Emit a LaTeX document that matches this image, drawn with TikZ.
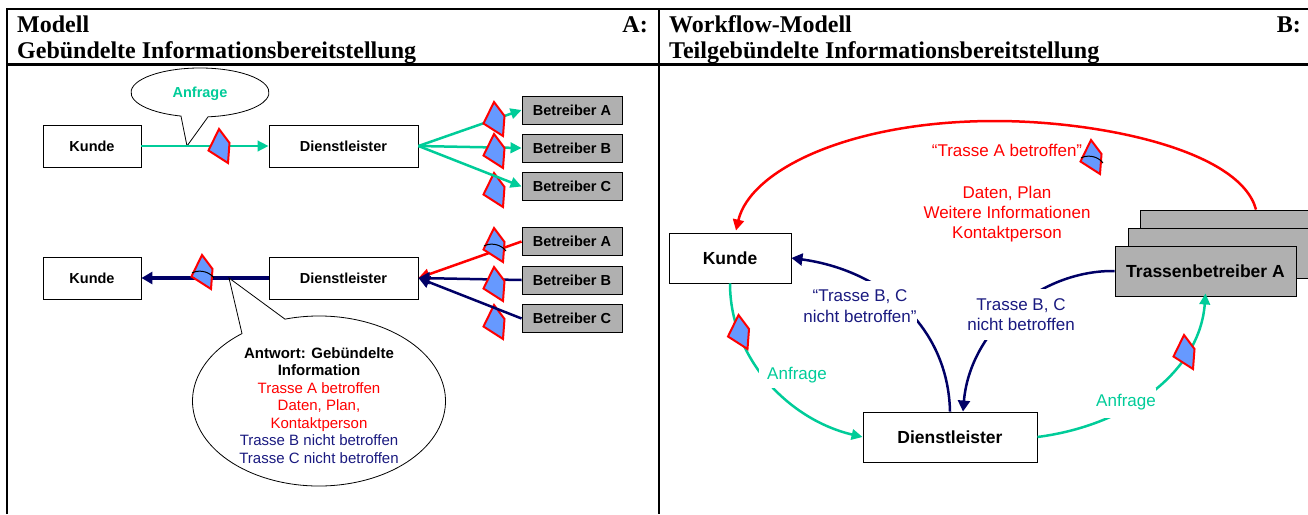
\documentclass[tikz,border=0pt]{standalone}
\usepackage{fontspec}
\setmainfont{Liberation Sans}
\newfontfamily\titlefont{Liberation Serif}
\usepackage{xcolor}
\usepackage{tikz}
\usetikzlibrary{arrows.meta}
\definecolor{anfragegreen}{HTML}{00CC99}
\definecolor{antwortnavy}{HTML}{000066}
\definecolor{labelnavy}{HTML}{1A1A80}
\definecolor{kiteblue}{HTML}{6699FF}
\definecolor{betreibergray}{HTML}{B0B0B0}
\tikzset{framerule/.style={draw=black,line width=2.2pt},
         titletext/.style={font=\titlefont\bfseries\fontsize{24}{26}\selectfont,inner sep=0pt},
         smallbox/.style={draw=black,line width=0.9pt,fill=white,inner sep=0pt,font=\bfseries\fontsize{14.5}{17}\selectfont},
         largebox/.style={draw=black,line width=0.9pt,fill=white,inner sep=0pt,font=\bfseries\fontsize{17.5}{20}\selectfont},
         bubbleline/.style={draw=black,line width=0.8pt,fill=white},
         bubbletext/.style={align=center,inner sep=0pt,font=\fontsize{15}{17.5}\selectfont},
         pathlabel/.style={align=center,inner sep=0pt,fill=white,font=\fontsize{17}{20.5}\selectfont},
         freelabel/.style={align=center,inner sep=0pt,font=\fontsize{17}{20}\selectfont},
         anfragearrow/.style={draw=anfragegreen,line width=2.5pt,-{Triangle[length=11pt,width=10.5pt]}},
         antwortarrow/.style={draw=antwortnavy,line width=2.5pt,-{Triangle[length=11pt,width=12pt]}},
         betroffenarrow/.style={draw=red,line width=2.5pt,-{Triangle[length=11pt,width=11pt]}},
         kiteshape/.style={draw=red,line width=2pt,fill=kiteblue,line join=miter},
         kitearc/.style={draw=black,line width=1pt}}
\newcommand{\kite}[2]{\draw[kiteshape,shift={(#1,#2)}] (0,0)--(10.5,14)--(9,34)--(-10.5,21.5)--cycle;}
\newcommand{\kitemark}[2]{\draw[kitearc,shift={(#1,#2)}] (-10,18) .. controls (-5,15) and (6,15) .. (12,23);}

\begin{document}
\begin{tikzpicture}[x=1pt,y=-1pt]
\useasboundingbox (0,0) rectangle (1308,514);
\clip (0,0) rectangle (1308,514);
\draw[framerule] (7,514)--(7,9)--(1308,9);
\draw[framerule] (7,64.5)--(1308,64.5);
\draw[framerule] (659,9)--(659,514);
\node[titletext,anchor=base west] (titleA) at (17,32) {Modell};
\node[titletext,anchor=base west] (subtitleA) at (17,58) {Gebündelte Informationsbereitstellung};
\node[titletext,anchor=base east] (markA) at (648,32) {A:};
\node[titletext,anchor=base west] (titleB) at (669,32) {Workflow-Modell};
\node[titletext,anchor=base west] (subtitleB) at (669,58) {Teilgebündelte Informationsbereitstellung};
\node[titletext,anchor=base east] (markB) at (1301,32) {B:};

\node[smallbox,minimum width=98pt,minimum height=42pt] (kundeoben) at (92,146) {Kunde};
\node[smallbox,minimum width=149pt,minimum height=42pt] (dienstoben) at (343.5,146) {Dienstleister};
\node[smallbox,fill=betreibergray,minimum width=100pt,minimum height=28pt] (betreiberAoben) at (572,110) {Betreiber A};
\node[smallbox,fill=betreibergray,minimum width=100pt,minimum height=28pt] (betreiberBoben) at (572,148) {Betreiber B};
\node[smallbox,fill=betreibergray,minimum width=100pt,minimum height=28pt] (betreiberCoben) at (572,186.5) {Betreiber C};
\draw[bubbleline] (187,146) -- ([shift={(106:69 and 24.5)}]200,92.5) arc[start angle=106,end angle=443.3,x radius=69,y radius=24.5] -- cycle;
\node[font=\bfseries\fontsize{14.5}{17}\selectfont,text=anfragegreen,inner sep=0pt] (anfrageoben) at (200,94) {Anfrage};
\draw[anfragearrow] (kundeoben.east)--(dienstoben.west);
\kite{219}{129}
\draw[anfragearrow] (dienstoben.east)--(betreiberAoben.west);
\kite{494}{102}
\kite{494}{173}
\draw[anfragearrow] (dienstoben.east)--(betreiberCoben.west);
\draw[anfragearrow] (dienstoben.east)--(betreiberBoben.west);
\kite{494}{134}

\node[smallbox,minimum width=98pt,minimum height=42pt] (kundeunten) at (92,278) {Kunde};
\node[smallbox,minimum width=149pt,minimum height=42pt] (dienstunten) at (343.5,278) {Dienstleister};
\node[smallbox,fill=betreibergray,minimum width=100pt,minimum height=28pt] (betreiberAunten) at (572,241.5) {Betreiber A};
\node[smallbox,fill=betreibergray,minimum width=100pt,minimum height=28pt] (betreiberBunten) at (572,280) {Betreiber B};
\node[smallbox,fill=betreibergray,minimum width=100pt,minimum height=28pt] (betreiberCunten) at (572,318.5) {Betreiber C};
\draw[antwortarrow,line width=3.2pt] (dienstunten.west)--(kundeunten.east);
\kite{202}{255}
\kitemark{202}{255}
\draw[betroffenarrow] (betreiberAunten.west)--(dienstunten.east);
\kite{494}{228}
\kitemark{494}{228}
\kite{494}{305}
\draw[antwortarrow] (betreiberCunten.west)--(dienstunten.east);
\draw[antwortarrow] (betreiberBunten.west)--(dienstunten.east);
\kite{494}{267}
\draw[bubbleline] (229,278) -- ([shift={(-105.6:126.5 and 85)}]319,401) arc[start angle=-105.6,end angle=232.5,x radius=126.5,y radius=85] -- cycle;
\node[bubbletext] (antwort) at (319,405.5) {\textbf{Antwort: Gebündelte}\\\textbf{Information}\\\textcolor{red}{Trasse A betroffen}\\\textcolor{red}{Daten, Plan,}\\\textcolor{red}{Kontaktperson}\\\textcolor{labelnavy}{Trasse B nicht betroffen}\\\textcolor{labelnavy}{Trasse C nicht betroffen}};

\node[largebox,fill=betreibergray,minimum width=181pt,minimum height=50pt] (trasseC) at (1230.5,235) {};
\node[largebox,fill=betreibergray,minimum width=181pt,minimum height=50pt] (trasseB) at (1218.5,253) {};
\node[largebox,fill=betreibergray,minimum width=181pt,minimum height=50pt] (trasseA) at (1205.5,271) {Trassenbetreiber A};
\node[largebox,minimum width=122pt,minimum height=50pt] (kundeB) at (730,258) {Kunde};
\node[largebox,minimum width=174pt,minimum height=50pt] (dienstB) at (950,437) {Dienstleister};
\draw[betroffenarrow] ([xshift=25.5]trasseC.north) .. controls (1240,150) and (1100,121) .. (995,121) .. controls (850,121) and (750,170) .. ([xshift=6,yshift=2]kundeB.north);
\kite{1091}{140}
\kitemark{1091}{140}
\node[freelabel,text=red] (betroffen) at (1007,150) {“Trasse A betroffen”};
\node[freelabel,text=red] (daten) at (1007,214) {Daten, Plan\\Weitere Informationen\\Kontaktperson};
\draw[anfragearrow] (kundeB.south) .. controls (730,360) and (790,420) .. (dienstB.west);
\kite{738.5}{315}
\node[pathlabel,text=anfragegreen,minimum width=76pt,minimum height=24pt] (anfrageB) at (797,375.5) {Anfrage};
\draw[anfragearrow] (dienstB.east) .. controls (1130,425) and (1200,370) .. ([yshift=3]trasseA.south);
\kite{1184}{335}
\node[pathlabel,text=anfragegreen,minimum width=60pt,minimum height=30pt] (anfrageT) at (1126,402.5) {Anfrage};
\draw[antwortarrow] (dienstB.north) .. controls (948,325) and (880,270) .. (kundeB.east);
\node[pathlabel,text=labelnavy,minimum height=50pt] (nichtK) at (860,306) {“Trasse B, C\\nicht betroffen”};
\draw[antwortarrow] (trasseA.west) .. controls (1040,270) and (970,330) .. ([xshift=13]dienstB.north);
\node[pathlabel,text=labelnavy,minimum height=51pt] (nichtT) at (1021,314.5) {Trasse B, C\\nicht betroffen};
\end{tikzpicture}
\end{document}
